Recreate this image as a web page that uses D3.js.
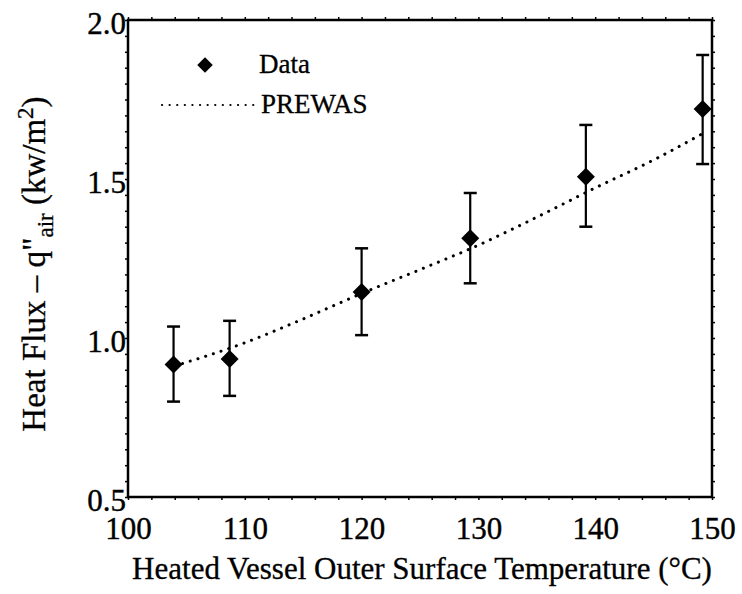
<!DOCTYPE html>
<html>
<head>
<meta charset="utf-8">
<script src="https://cdn.jsdelivr.net/npm/d3@7"></script>
<style>
  body { margin: 0; background: #fff; }
  svg text { font-family: "Liberation Serif", "DejaVu Serif", serif; fill: #000; }
</style>
</head>
<body>
<svg id="chart" width="742" height="594"></svg>
<script>
const temps = [103.9, 108.7, 120.0, 129.3, 139.2, 149.2];
const flux = [0.917, 0.934, 1.145, 1.314, 1.507, 1.72];
const fluxLow = [0.80, 0.818, 1.009, 1.172, 1.35, 1.547];
const fluxHigh = [1.036, 1.054, 1.282, 1.456, 1.67, 1.89];

// PREWAS prediction curve
const prewasT = [104, 110, 115, 120, 125, 130, 135, 140, 145, 149.3];
const prewasQ = [0.912, 0.985, 1.06, 1.14, 1.215, 1.292, 1.38, 1.472, 1.56, 1.645];

const xTicks = [100, 110, 120, 130, 140, 150];
const yTicks = [0.5, 1.0, 1.5, 2.0];

const margin = { left: 128, right: 30, top: 20, bottom: 97 };
const width = 742, height = 594;

const svg = d3.select('#chart');

const x = d3.scaleLinear().domain([100, 150]).range([margin.left, width - margin.right]);
const y = d3.scaleLinear().domain([0.5, 2.0]).range([height - margin.bottom, margin.top]);

const minorX = d3.range(100, 150.01, 2);
const minorY = d3.range(0.5, 2.001, 0.05);

// minor ticks on all four sides, pointing out
const tick = (g) => g.call(s => s.select('.domain').remove())
  .selectAll('line').attr('stroke', '#000').attr('stroke-width', 1.5);

svg.append('g').attr('transform', `translate(0,${y(0.5)})`)
  .call(d3.axisBottom(x).tickValues(minorX).tickSize(3).tickFormat('')).call(tick);
svg.append('g').attr('transform', `translate(0,${y(2.0)})`)
  .call(d3.axisTop(x).tickValues(minorX).tickSize(3).tickFormat('')).call(tick);
svg.append('g').attr('transform', `translate(${x(100)},0)`)
  .call(d3.axisLeft(y).tickValues(minorY).tickSize(3).tickFormat('')).call(tick);
svg.append('g').attr('transform', `translate(${x(150)},0)`)
  .call(d3.axisRight(y).tickValues(minorY).tickSize(3).tickFormat('')).call(tick);

// labels
const xLab = svg.append('g').attr('transform', `translate(0,${y(0.5)})`)
  .call(d3.axisBottom(x).tickValues(xTicks).tickSize(0).tickPadding(20).tickFormat(d3.format('d')));
xLab.select('.domain').remove();
xLab.selectAll('text').attr('font-size', 31).attr('font-family', null)
  .attr('stroke', '#000').attr('stroke-width', 0.4);

const yLab = svg.append('g').attr('transform', `translate(${x(100)},0)`)
  .call(d3.axisLeft(y).tickValues(yTicks).tickSize(0).tickPadding(2).tickFormat(d3.format('.1f')));
yLab.select('.domain').remove();
yLab.selectAll('text').attr('font-size', 31).attr('font-family', null)
  .attr('dy', '0.42em').attr('stroke', '#000').attr('stroke-width', 0.4);

// frame
svg.append('rect')
  .attr('x', x(100)).attr('y', y(2.0))
  .attr('width', x(150) - x(100)).attr('height', y(0.5) - y(2.0))
  .attr('fill', 'none').attr('stroke', '#000').attr('stroke-width', 2.5);

// PREWAS dotted line
const line = d3.line().x((d, i) => x(prewasT[i])).y(d => y(d)).curve(d3.curveMonotoneX);
svg.append('path')
  .datum(prewasQ)
  .attr('d', line)
  .attr('fill', 'none').attr('stroke', '#000')
  .attr('stroke-width', 3).attr('stroke-linecap', 'round')
  .attr('stroke-dasharray', '0.1 8');

// error bars
const capW = 6.5;
const bars = svg.append('g').selectAll('g').data(temps).join('g');
bars.append('line')
  .attr('x1', d => x(d)).attr('x2', d => x(d))
  .attr('y1', (d, i) => y(fluxLow[i])).attr('y2', (d, i) => y(fluxHigh[i]))
  .attr('stroke', '#000').attr('stroke-width', 2.2);
bars.append('line')
  .attr('x1', d => x(d) - capW).attr('x2', d => x(d) + capW)
  .attr('y1', (d, i) => y(fluxHigh[i])).attr('y2', (d, i) => y(fluxHigh[i]))
  .attr('stroke', '#000').attr('stroke-width', 2.5);
bars.append('line')
  .attr('x1', d => x(d) - capW).attr('x2', d => x(d) + capW)
  .attr('y1', (d, i) => y(fluxLow[i])).attr('y2', (d, i) => y(fluxLow[i]))
  .attr('stroke', '#000').attr('stroke-width', 2.5);

// diamonds
const diamond = d3.symbol().type(d3.symbolSquare).size(162);
bars.append('path')
  .attr('d', diamond)
  .attr('transform', (d, i) => `translate(${x(d)},${y(flux[i])}) rotate(45)`)
  .attr('fill', '#000');

// legend
const legend = svg.append('g');
legend.append('path')
  .attr('d', d3.symbol().type(d3.symbolSquare).size(120))
  .attr('transform', 'translate(205,65) rotate(45)');
legend.append('text').attr('x', 259).attr('y', 73).attr('font-size', 27)
  .attr('stroke', '#000').attr('stroke-width', 0.3).text('Data');
legend.append('line')
  .attr('x1', 162).attr('x2', 254).attr('y1', 105).attr('y2', 105)
  .attr('stroke', '#000').attr('stroke-width', 2.2).attr('stroke-linecap', 'round')
  .attr('stroke-dasharray', '0.1 7.5');
legend.append('text').attr('x', 261).attr('y', 113).attr('font-size', 27)
  .attr('stroke', '#000').attr('stroke-width', 0.3).text('PREWAS');

// axis titles
svg.append('text')
  .attr('x', 422).attr('y', 579)
  .attr('text-anchor', 'middle').attr('font-size', 31)
  .attr('stroke', '#000').attr('stroke-width', 0.3)
  .text('Heated Vessel Outer Surface Temperature (°C)');

const yt = svg.append('text')
  .attr('transform', 'translate(45,264) rotate(-90)')
  .attr('text-anchor', 'middle').attr('font-size', 33)
  .attr('stroke', '#000').attr('stroke-width', 0.3);
yt.append('tspan').text('Heat Flux – q');
yt.append('tspan').text('"');
yt.append('tspan').attr('font-size', 23).attr('dy', 8).text('air');
yt.append('tspan').attr('dy', -8).text(' (kw/m');
yt.append('tspan').attr('font-size', 23).attr('dy', -12).text('2');
yt.append('tspan').attr('dy', 12).text(')');
</script>
</body>
</html>
